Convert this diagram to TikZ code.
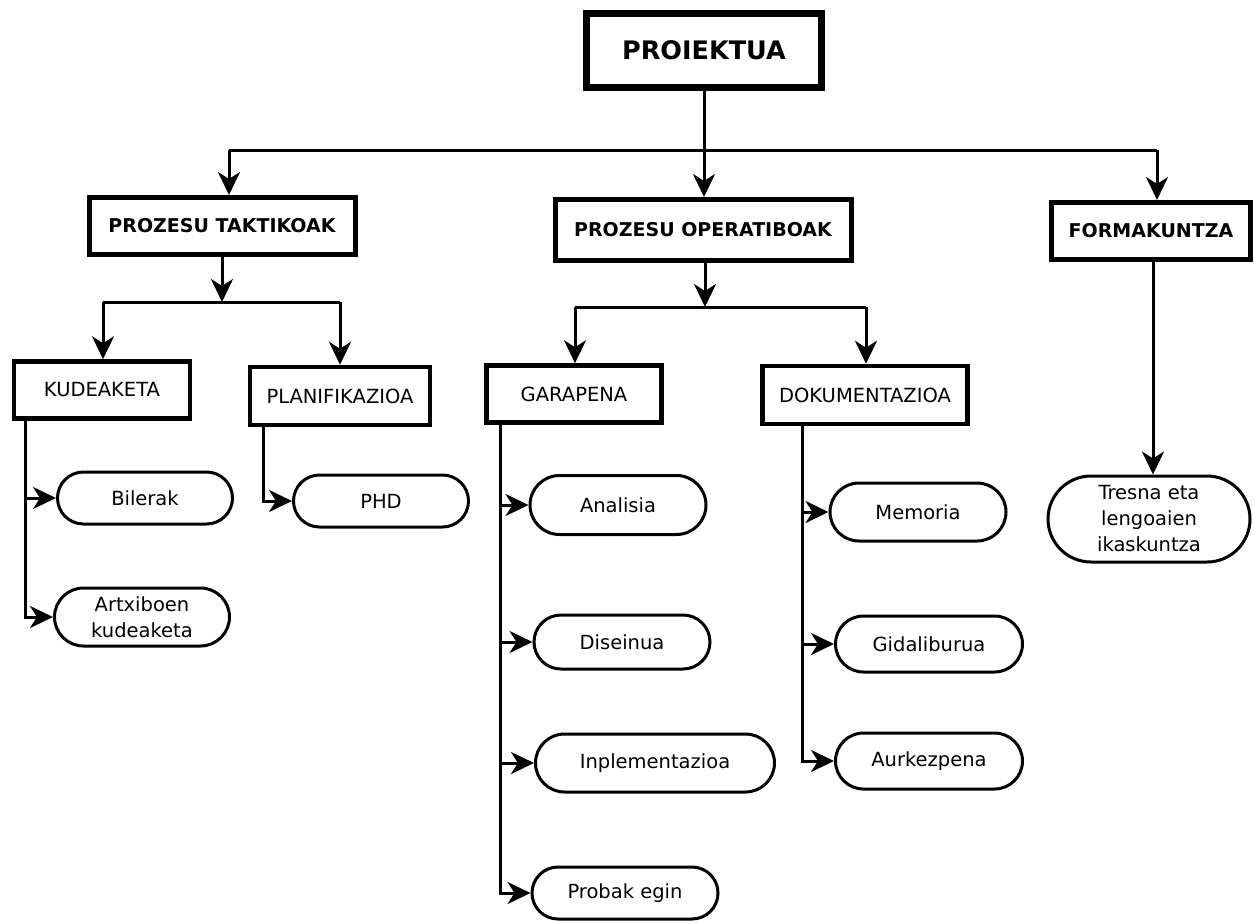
\documentclass[tikz,border=0pt]{standalone}
\usepackage{fontspec}
\setmainfont{DejaVu Sans}
\usetikzlibrary{shapes.misc,arrows.meta}
\begin{document}
\begin{tikzpicture}[x=1pt,y=-1pt,
  conn/.style={line width=3pt,black},
  arr/.style={conn,-{Stealth[length=23pt,width=22pt,inset=7pt]}},
  topbox/.style={draw,line width=7pt,minimum width=235pt,minimum height=74pt,inner sep=0pt,font=\fontsize{25.5}{30}\selectfont\bfseries},
  midbox/.style={draw,line width=5pt,minimum height=57pt,inner sep=0pt,font=\fontsize{19}{23}\selectfont\bfseries},
  subbox/.style={draw,line width=4.5pt,minimum height=57pt,inner sep=0pt,font=\fontsize{19.5}{22}\selectfont},
  pill/.style={draw,rounded rectangle,line width=3pt,inner sep=0pt,align=center,font=\fontsize{19.5}{26}\selectfont}
]
\useasboundingbox (0,0) rectangle (1254,922);
\fill[white] (0,0) rectangle (1254,922);

% main nodes
\node[topbox] (proj) at (704,50) {PROIEKTUA};
\node[midbox,minimum width=266pt] (tak) at (222,226) {PROZESU TAKTIKOAK};
\node[midbox,minimum width=296pt,minimum height=61pt] (ope) at (703,230) {PROZESU OPERATIBOAK};
\node[midbox,minimum width=199pt] (form) at (1151,231) {FORMAKUNTZA};

\node[subbox,minimum width=176pt] (kud) at (102,390) {KUDEAKETA};
\node[subbox,minimum width=180pt,minimum height=58pt] (plan) at (340,396) {PLANIFIKAZIOA};
\node[subbox,minimum width=175pt] (gar) at (574,394) {GARAPENA};
\node[subbox,minimum width=205pt,minimum height=58pt] (dok) at (865,395) {DOKUMENTAZIOA};

\node[pill,minimum width=175pt,minimum height=52pt] (bil) at (145,498) {Bilerak};
\node[pill,minimum width=175pt,minimum height=58pt] (art) at (142,617) {Artxiboen\\kudeaketa};
\node[pill,minimum width=175pt,minimum height=52pt] (phd) at (381,501) {PHD};
\node[pill,minimum width=176pt,minimum height=59pt] (ana) at (618,505) {Analisia};
\node[pill,minimum width=176pt,minimum height=54pt] (dis) at (622,642) {Diseinua};
\node[pill,minimum width=239pt,minimum height=58pt] (inp) at (655,763) {Inplementazioa};
\node[pill,minimum width=186pt,minimum height=52pt] (pro) at (625,893) {Probak egin};
\node[pill,minimum width=176pt,minimum height=58pt] (mem) at (918,512) {Memoria};
\node[pill,minimum width=187pt,minimum height=56pt] (gid) at (929,644) {Gidaliburua};
\node[pill,minimum width=187pt,minimum height=56pt] (aur) at (929,761) {Aurkezpena};
\node[pill,minimum width=202pt,minimum height=86pt] (tre) at (1149,519) {Tresna eta\\lengoaien\\ikaskuntza};

% bus coordinates
\coordinate (b1) at (229,150);
\coordinate (b2) at (1157,150);
\coordinate (t1) at (103,302);
\coordinate (t2) at (340,302);
\coordinate (o1) at (575,307);
\coordinate (o2) at (866,307);
\coordinate (kx) at (25,0);
\coordinate (px) at (263,0);
\coordinate (gx) at (500,0);
\coordinate (dx) at (802,0);

% top level
\draw[arr] (proj.south) -- (proj.south |- ope.north);
\draw[conn] (b1) -- (b2);
\draw[arr] (b1) -- (b1 |- tak.north);
\draw[arr] (b2) -- (b2 |- form.north);

% taktikoak
\draw[arr] (tak.south) -- (tak.south |- t1);
\draw[conn] (t1) -- (t2);
\draw[arr] (t1) -- (t1 |- kud.north);
\draw[arr] (t2) -- (t2 |- plan.north);

% operatiboak
\draw[arr] ([xshift=2pt]ope.south) -- ([xshift=2pt]ope.south |- o1);
\draw[conn] (o1) -- (o2);
\draw[arr] (o1) -- (o1 |- gar.north);
\draw[arr] (o2) -- (o2 |- dok.north);

% formakuntza
\draw[arr] ([xshift=2pt]form.south) -- ([xshift=2pt]form.south |- tre.north);

% kudeaketa
\draw[arr] (kud.south -| kx) |- (bil.west);
\draw[arr] (kud.south -| kx) |- (art.west);

% planifikazioa
\draw[arr] (plan.south -| px) |- (phd.west);

% garapena
\draw[arr] (gar.south -| gx) |- (ana.west);
\draw[arr] (gar.south -| gx) |- (dis.west);
\draw[arr] (gar.south -| gx) |- (inp.west);
\draw[arr] (gar.south -| gx) |- (pro.west);

% dokumentazioa
\draw[arr] (dok.south -| dx) |- (mem.west);
\draw[arr] (dok.south -| dx) |- (gid.west);
\draw[arr] (dok.south -| dx) |- (aur.west);
\end{tikzpicture}
\end{document}
